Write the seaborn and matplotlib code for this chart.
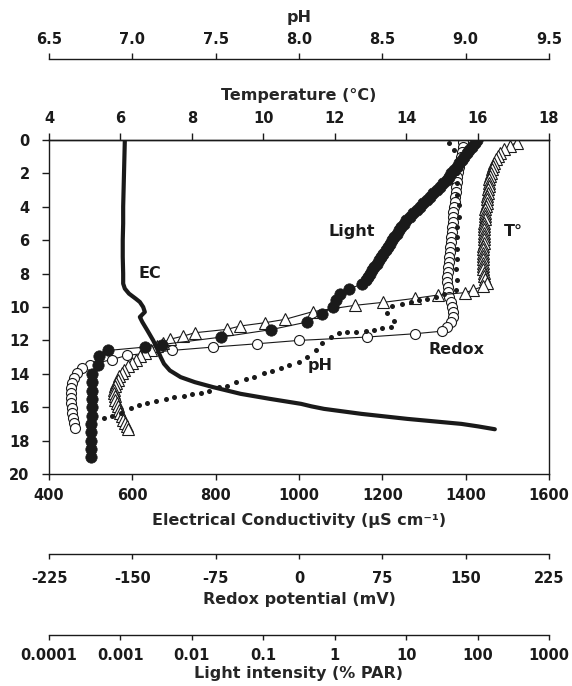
import numpy as np
import pandas as pd
import matplotlib
matplotlib.use("Agg")
import matplotlib.pyplot as plt
import seaborn as sns
from matplotlib.ticker import FixedLocator, FixedFormatter, NullLocator

# ---------------- data (depth in m) ----------------
ec_depth = [0.0, 1.0, 2.0, 3.0, 4.0, 5.0, 6.0, 7.0, 8.0, 8.6, 8.9, 9.2, 9.5, 9.7, 10.0, 10.3, 10.5, 10.6, 10.9, 11.4,
            12.0, 12.4, 13.0, 13.4, 13.8, 14.2, 14.5, 14.8, 15.2, 15.5, 15.8, 15.95, 16.1, 16.4, 16.7, 17.0, 17.15, 17.32]
ec_values = [582, 581, 580, 579, 578, 578, 577, 577, 578, 578, 582, 592, 608, 618, 626, 630, 622, 618, 624, 636,
             650, 658, 668, 676, 690, 716, 750, 794, 860, 930, 1005, 1030, 1060, 1150, 1260, 1390, 1430, 1470]

temp_depth = [0.15, 0.35, 0.55, 0.75, 0.95, 1.15, 1.35, 1.55, 1.75, 1.95, 2.15, 2.35, 2.55, 2.75, 2.95, 3.15, 3.35,
              3.55, 3.75, 3.95, 4.15, 4.35, 4.55, 4.75, 4.95, 5.15, 5.35, 5.55, 5.75, 5.95, 6.15, 6.35, 6.55, 6.75,
              6.95, 7.15, 7.35, 7.55, 7.75, 7.95, 8.15, 8.35, 8.55, 8.75,
              8.98, 9.14, 9.28, 9.48, 9.72, 9.9, 10.28, 10.74, 10.94, 11.14, 11.34, 11.54, 11.74, 11.93,
              12.15, 12.35, 12.55, 12.75, 12.95, 13.15, 13.35, 13.55, 13.75, 13.95, 14.15, 14.35, 14.55, 14.75,
              14.95, 15.15, 15.35, 15.55, 15.75, 15.95, 16.15, 16.35, 16.55, 16.75, 16.95, 17.15, 17.3]
temp_values = [17.09, 16.91, 16.74, 16.63, 16.56, 16.52, 16.47, 16.43, 16.40, 16.38, 16.35, 16.33, 16.32, 16.31,
               16.29, 16.28, 16.27, 16.26, 16.25, 16.23, 16.22, 16.21, 16.20, 16.20, 16.19, 16.19, 16.18, 16.18,
               16.17, 16.17, 16.17, 16.16, 16.16, 16.16, 16.16, 16.16, 16.16, 16.16, 16.16, 16.17, 16.18, 16.21,
               16.26, 16.16,
               15.88, 15.65, 14.90, 14.25, 13.36, 12.57, 11.38, 10.61, 10.05, 9.35, 8.98, 8.09, 7.76, 7.39,
               7.19, 7.02, 6.86, 6.70, 6.56, 6.44, 6.32, 6.21, 6.11, 6.03, 5.96, 5.92, 5.88, 5.85,
               5.83, 5.83, 5.85, 5.86, 5.89, 5.92, 5.95, 5.99, 6.03, 6.07, 6.13, 6.17, 6.21]

ph_depth = [0.2, 0.6, 1.4, 2.0, 2.6, 3.3, 3.9, 4.6, 5.2, 5.8, 6.5, 7.1, 7.7, 8.4, 9.0, 9.25, 9.38, 9.5, 9.6, 9.72,
            9.85, 9.95, 10.38, 10.82, 11.2, 11.28, 11.38, 11.42, 11.48, 11.52, 11.58, 11.82, 12.14, 12.57, 12.97,
            13.27, 13.47, 13.67, 13.81, 13.97, 14.17, 14.33, 14.47, 14.73, 14.81, 15.01, 15.13, 15.23, 15.33,
            15.41, 15.53, 15.61, 15.73, 15.87, 16.07, 16.37, 16.53, 16.67]
ph_values = [8.90, 8.93, 8.95, 8.95, 8.95, 8.95, 8.96, 8.96, 8.95, 8.95, 8.95, 8.95, 8.94, 8.95, 8.94, 8.87, 8.82,
             8.77, 8.72, 8.67, 8.62, 8.56, 8.53, 8.57, 8.55, 8.50, 8.45, 8.40, 8.34, 8.29, 8.24, 8.19, 8.14, 8.10,
             8.05, 8.00, 7.94, 7.89, 7.84, 7.79, 7.73, 7.68, 7.62, 7.57, 7.52, 7.46, 7.41, 7.36, 7.31, 7.25, 7.20,
             7.14, 7.09, 7.04, 6.99, 6.93, 6.88, 6.83]

redox_depth = [0.1, 0.4, 0.7, 1.0, 1.3, 1.6, 1.9, 2.2, 2.5, 2.8, 3.1, 3.4, 3.7, 4.0, 4.3, 4.6, 4.9, 5.2, 5.5, 5.8,
               6.1, 6.4, 6.7, 7.0, 7.3, 7.6, 7.9, 8.2, 8.5, 8.8, 9.1, 9.4, 9.7, 10.0, 10.3, 10.6, 10.9, 11.2,
               11.45, 11.6, 11.8, 12.0, 12.2, 12.4, 12.6, 12.9, 13.15, 13.45, 13.65, 13.95,
               14.25, 14.55, 14.85, 15.15, 15.45, 15.75, 16.05, 16.35, 16.65, 16.95, 17.25]
redox_values = [147.6, 147.2, 146.7, 145.8, 144.9, 143.6, 142.7, 142.2, 141.8, 141.3, 140.9, 140.4, 140.0, 139.5,
                139.0, 138.6, 138.2, 137.7, 137.3, 136.8, 136.4, 135.9, 135.5, 135.0, 134.6, 134.1, 133.7, 133.2,
                133.2, 133.7, 134.1, 135.0, 136.4, 137.7, 138.6, 138.6, 136.4, 132.8,
                128.4, 104.4, 60.9, 0.0, -37.5, -77.4, -114.6, -155.0, -168.6, -188.0, -195.6, -200.0,
                -202.5, -203.9, -204.8, -205.2, -205.2, -204.8, -204.3, -203.9, -203.0, -202.5, -201.6]

light_depth = [0.0, 0.2, 0.4, 0.6, 0.8, 1.0, 1.2, 1.4, 1.6, 1.8, 2.0, 2.2, 2.4, 2.6, 2.8, 3.0, 3.2, 3.4, 3.6, 3.8,
               4.0, 4.2, 4.4, 4.6, 4.8, 5.0, 5.2, 5.4, 5.6, 5.8, 6.0, 6.2, 6.4, 6.6, 6.8, 7.0, 7.2, 7.4, 7.6, 7.8,
               8.0, 8.2, 8.4, 8.6,
               8.95, 9.2, 9.6, 10.0, 10.4, 10.9, 11.35, 11.8, 12.25, 12.4, 12.6, 12.95, 13.45, 14.0,
               14.5, 15.0, 15.5, 16.0, 16.5, 17.0, 17.5, 18.0, 18.5, 19.0]
light_values = [98, 91, 84, 77, 70, 65, 60, 55, 51, 47, 43, 40, 37, 33, 30, 27, 24, 21.5, 19.3, 17.3,
                15.6, 14.0, 12.6, 11.3, 10.1, 9.3, 8.5, 7.9, 7.4, 6.8, 6.3, 5.9, 5.6, 5.2, 4.8, 4.5, 4.2, 3.9, 3.6,
                3.3, 3.1, 2.9, 2.7, 2.4,
                1.6, 1.17, 1.05, 0.95, 0.66, 0.41, 0.13, 0.026, 0.0038, 0.0022, 0.00068, 0.0005, 0.00048, 0.0004,
                0.0004, 0.0004, 0.0004, 0.0004, 0.0004, 0.00039, 0.00039, 0.00039, 0.00039, 0.00039]

depth_ticks = list(range(0, 21, 2))
ec_ticks = [400, 600, 800, 1000, 1200, 1400, 1600]
temp_ticks = [4, 6, 8, 10, 12, 14, 16, 18]
ph_ticks = [6.5, 7.0, 7.5, 8.0, 8.5, 9.0, 9.5]
redox_ticks = [-225, -150, -75, 0, 75, 150, 225]
light_ticks = [0.0001, 0.001, 0.01, 0.1, 1, 10, 100, 1000]
light_tick_labels = ["0.0001", "0.001", "0.01", "0.1", "1", "10", "100", "1000"]

# ---------------- style ----------------
sns.set_theme(style="ticks")
plt.rcParams["font.family"] = ["DejaVu Sans"]
plt.rcParams["font.weight"] = "bold"
plt.rcParams["axes.labelweight"] = "bold"
plt.rcParams["axes.unicode_minus"] = False
INK = "#1a1a1a"
plt.rcParams["axes.edgecolor"] = INK
plt.rcParams["xtick.color"] = INK
plt.rcParams["ytick.color"] = INK
plt.rcParams["text.color"] = INK

TICK_FS = 10.5
LABEL_FS = 11.5

fig = plt.figure(figsize=(5.72, 6.86), dpi=100)
fig.patch.set_facecolor("white")
ax = fig.add_axes([49 / 572, 1 - 474 / 686, 500 / 572, 334 / 686])

ax_t = ax.twiny()
ax_ph = ax.twiny()
ax_r = ax.twiny()
ax_l = ax.twiny()

ax_l.set_xscale("log")

# layer order
ax_r.set_zorder(1)
ax_t.set_zorder(2)
ax_ph.set_zorder(3)
ax_l.set_zorder(4)
ax.set_zorder(5)
for a in (ax, ax_t, ax_ph, ax_r, ax_l):
    a.patch.set_visible(False)

# ---------------- data drawing ----------------
sns.lineplot(x=redox_values, y=redox_depth, ax=ax_r, sort=False, estimator=None, color=INK,
             linewidth=0.8, marker="o", markersize=7.2, markerfacecolor="white",
             markeredgecolor=INK, markeredgewidth=0.8)
sns.lineplot(x=temp_values, y=temp_depth, ax=ax_t, sort=False, estimator=None, color=INK,
             linewidth=0.8, marker="^", markersize=8, markerfacecolor="white",
             markeredgecolor=INK, markeredgewidth=0.8)
sns.scatterplot(x=ph_values, y=ph_depth, ax=ax_ph, color=INK, s=13, linewidth=0)
sns.lineplot(x=light_values, y=light_depth, ax=ax_l, sort=False, estimator=None, color=INK,
             linewidth=0.8, marker="o", markersize=8.2, markerfacecolor=INK,
             markeredgecolor=INK, markeredgewidth=0.5)
sns.lineplot(x=ec_values, y=ec_depth, ax=ax, sort=False, estimator=None, color=INK, linewidth=3.0)

# ---------------- axes setup ----------------
ax.set_xlim(400, 1600)
ax.set_ylim(20, 0)
ax.set_yticks(depth_ticks)
ax.set_xticks(ec_ticks)
ax.tick_params(axis="y", direction="out", length=5, width=1, pad=9, labelsize=TICK_FS, left=True, right=False)
ax.tick_params(axis="x", direction="out", length=4.3, width=1, pad=6, labelsize=TICK_FS, bottom=True, top=False)
for s in ax.spines.values():
    s.set_linewidth(1.0)
    s.set_color(INK)
ax.set_ylabel("")
ax.set_xlabel("Electrical Conductivity (µS cm⁻¹)", fontsize=LABEL_FS, fontweight="bold")
ax.xaxis.set_label_coords(0.5, -0.1407)
ax.xaxis.label.set_verticalalignment("center")

# temperature (top)
ax_t.set_xlim(4, 18)
ax_t.set_xticks(temp_ticks)
ax_t.tick_params(axis="x", direction="out", length=4.8, width=1, pad=5.5, labelsize=TICK_FS)
for k in ("left", "right", "bottom"):
    ax_t.spines[k].set_visible(False)
ax_t.spines["top"].set_linewidth(1.0)
ax_t.set_xlabel("Temperature (°C)", fontsize=LABEL_FS, fontweight="bold")
ax_t.xaxis.set_label_coords(0.5, 1.132)
ax_t.xaxis.label.set_verticalalignment("center")

# pH (top, offset)
ax_ph.set_xlim(6.5, 9.5)
ax_ph.xaxis.set_major_locator(FixedLocator(ph_ticks))
ax_ph.xaxis.set_major_formatter(FixedFormatter([f"{v:.1f}" for v in ph_ticks]))
ax_ph.spines["top"].set_position(("axes", 1.2416))
for k in ("left", "right", "bottom"):
    ax_ph.spines[k].set_visible(False)
ax_ph.spines["top"].set_linewidth(1.0)
ax_ph.tick_params(axis="x", direction="out", length=4.3, width=1, pad=4.5, labelsize=TICK_FS)
ax_ph.set_xlabel("pH", fontsize=LABEL_FS, fontweight="bold")
ax_ph.xaxis.set_label_coords(0.5, 1.366)
ax_ph.xaxis.label.set_verticalalignment("center")

# redox (bottom, offset)
ax_r.set_xlim(-225, 225)
ax_r.set_xticks(redox_ticks)
ax_r.xaxis.set_ticks_position("bottom")
ax_r.xaxis.set_label_position("bottom")
ax_r.spines["bottom"].set_position(("axes", -0.2404))
for k in ("left", "right", "top"):
    ax_r.spines[k].set_visible(False)
ax_r.spines["bottom"].set_linewidth(1.0)
ax_r.tick_params(axis="x", direction="out", length=3.6, width=1, pad=8.5, labelsize=TICK_FS)
ax_r.set_xlabel("Redox potential (mV)", fontsize=LABEL_FS, fontweight="bold")
ax_r.xaxis.set_label_coords(0.5, -0.377)
ax_r.xaxis.label.set_verticalalignment("center")

# light (bottom, offset, log)
ax_l.set_xlim(1e-4, 1e3)
ax_l.xaxis.set_major_locator(FixedLocator(light_ticks))
ax_l.xaxis.set_major_formatter(FixedFormatter(light_tick_labels))
ax_l.xaxis.set_minor_locator(NullLocator())
ax_l.xaxis.set_ticks_position("bottom")
ax_l.xaxis.set_label_position("bottom")
ax_l.spines["bottom"].set_position(("axes", -0.482))
for k in ("left", "right", "top"):
    ax_l.spines[k].set_visible(False)
ax_l.spines["bottom"].set_linewidth(1.0)
ax_l.tick_params(axis="x", direction="out", length=3.6, width=1, pad=6, labelsize=TICK_FS)
ax_l.set_xlabel("Light intensity (% PAR)", fontsize=LABEL_FS, fontweight="bold")
ax_l.xaxis.set_label_coords(0.5, -0.596)
ax_l.xaxis.label.set_verticalalignment("center")

for a in (ax_t, ax_ph, ax_r, ax_l):
    a.set_ylabel("")
    a.set_ylim(20, 0)
    for lab in a.get_xticklabels():
        lab.set_fontweight("bold")
for lab in ax.get_xticklabels() + ax.get_yticklabels():
    lab.set_fontweight("bold")

# in-plot series labels
for txt, xv, yv in [("EC", 642, 8.02), ("Light", 1126, 5.49), ("T°", 1514, 5.49),
                    ("Redox", 1378, 12.57), ("pH", 1050, 13.53)]:
    ax.text(xv, yv, txt, ha="center", va="center", fontsize=11.5, fontweight="bold", color=INK)

fig.savefig("out.png", dpi=100, facecolor="white")
